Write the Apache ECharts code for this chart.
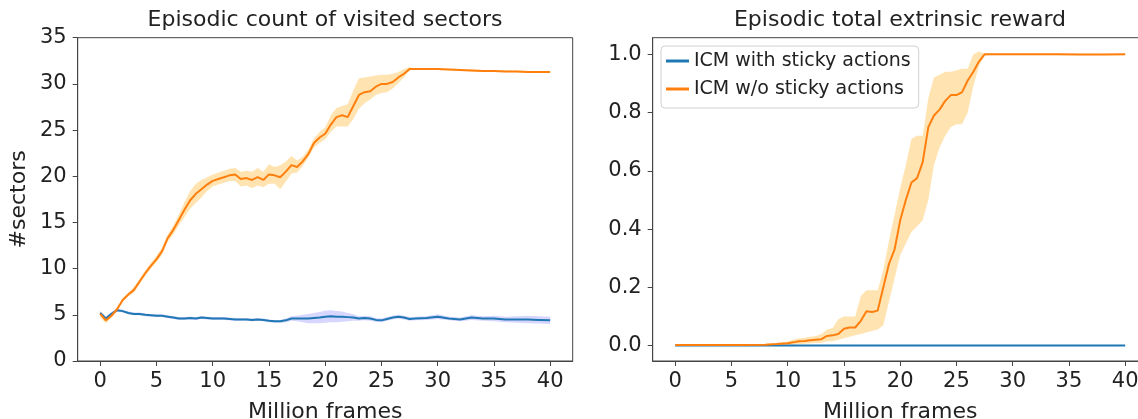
<!DOCTYPE html>
<html>
<head>
<meta charset="utf-8">
<script src="https://cdn.jsdelivr.net/npm/echarts@6/dist/echarts.min.js"></script>
<style>
  html, body { margin: 0; padding: 0; background: #fff; }
  #chart { width: 1138px; height: 419px; }
</style>
</head>
<body>
<div id="chart"></div>
<script>
// tick labels
const frameTicks = [0, 5, 10, 15, 20, 25, 30, 35, 40];
const sectorTicks = [0, 5, 10, 15, 20, 25, 30, 35];
const rewardTicks = [0, 0.2, 0.4, 0.6, 0.8, 1.0];

const seriesNames = ["ICM with sticky actions", "ICM w/o sticky actions"];

// left panel: episodic count of visited sectors (million frames)
const leftFrames = [0,0.5,1,1.5,2,2.5,3,3.5,4,4.5,5,5.5,6,6.5,7,7.5,8,8.5,9,9.5,
  10,10.5,11,11.5,12,12.5,13,13.5,14,14.5,15,15.5,16,16.5,17,17.5,18,18.5,19,19.5,
  20,20.5,21,21.5,22,22.5,23,23.5,24,24.5,25,25.5,26,26.5,27,27.5,28,
  29,30,31,32,33,34,35,36,37,38,39,40];

const sectorsSticky = [5.2,4.6,5.1,5.5,5.4,5.2,5.1,5.1,5.0,4.95,
  4.9,4.9,4.8,4.7,4.6,4.6,4.65,4.6,4.7,4.65,
  4.6,4.6,4.6,4.55,4.5,4.5,4.5,4.45,4.5,4.45,
  4.35,4.3,4.3,4.4,4.6,4.6,4.6,4.6,4.65,4.7,
  4.8,4.85,4.8,4.8,4.75,4.7,4.6,4.65,4.6,4.45,
  4.4,4.55,4.7,4.8,4.7,4.55,4.6,
  4.65,4.8,4.6,4.5,4.7,4.6,4.6,4.5,4.5,4.5,4.45,4.4];
const sectorsStickyLow = [5.0,4.4,4.9,5.35,5.25,5.05,4.95,4.95,4.85,4.8,
  4.75,4.75,4.65,4.55,4.45,4.45,4.5,4.45,4.55,4.5,
  4.45,4.45,4.45,4.4,4.35,4.35,4.35,4.3,4.35,4.3,
  4.2,4.15,4.15,4.2,4.35,4.3,4.2,4.1,4.1,4.1,
  4.15,4.2,4.2,4.25,4.3,4.35,4.35,4.4,4.35,4.25,
  4.2,4.35,4.5,4.6,4.5,4.35,4.4,
  4.45,4.55,4.4,4.3,4.45,4.35,4.3,4.2,4.15,4.1,4.05,4.0];
const sectorsStickyHigh = [5.4,4.8,5.3,5.65,5.55,5.35,5.25,5.25,5.15,5.1,
  5.05,5.05,4.95,4.85,4.75,4.75,4.8,4.75,4.85,4.8,
  4.75,4.75,4.75,4.7,4.65,4.65,4.65,4.6,4.65,4.6,
  4.5,4.45,4.45,4.6,4.85,4.9,5.0,5.1,5.2,5.3,
  5.45,5.5,5.4,5.35,5.2,5.05,4.85,4.9,4.85,4.65,
  4.6,4.75,4.9,5.0,4.9,4.75,4.8,
  4.85,5.05,4.8,4.7,4.95,4.85,4.9,4.8,4.85,4.9,4.85,4.8];

const sectorsNoSticky = [5.1,4.4,4.9,5.6,6.6,7.2,7.7,8.6,9.5,10.3,
  11.0,11.9,13.3,14.2,15.3,16.4,17.4,18.1,18.6,19.1,
  19.5,19.7,19.9,20.1,20.2,19.7,19.8,19.6,19.9,19.6,
  20.2,20.1,19.9,20.5,21.2,21.0,21.6,22.4,23.6,24.2,
  24.6,25.6,26.4,26.6,26.4,27.6,28.8,29.1,29.2,29.7,
  30.0,30.0,30.2,30.7,31.1,31.6,31.6,
  31.6,31.6,31.55,31.5,31.45,31.4,31.4,31.35,31.35,31.3,31.3,31.3];
const sectorsNoStickyLow = [4.7,4.1,4.7,5.4,6.4,7.0,7.4,8.3,9.2,10.0,
  10.7,11.5,12.9,13.7,14.7,15.6,16.5,17.1,17.7,18.4,
  18.9,19.1,19.3,19.5,19.5,18.9,19.0,18.7,19.0,18.8,
  19.2,19.2,18.6,19.4,20.3,20.4,21.1,22.0,23.1,23.6,
  24.0,24.8,25.4,25.4,25.4,26.2,27.3,27.9,28.3,28.8,
  29.0,29.1,29.5,30.1,30.7,31.5,31.5,
  31.5,31.5,31.45,31.4,31.35,31.3,31.3,31.25,31.25,31.2,31.2,31.2];
const sectorsNoStickyHigh = [5.4,4.7,5.1,5.8,6.8,7.4,8.0,8.9,9.8,10.6,
  11.4,12.3,13.7,14.7,15.9,17.2,18.4,19.2,19.6,19.9,
  20.2,20.4,20.6,20.8,20.9,20.5,20.6,20.5,20.9,20.5,
  21.3,21.0,21.2,21.6,22.2,21.7,22.1,22.9,24.1,24.8,
  25.3,26.6,27.4,27.6,27.8,29.3,30.6,30.7,30.8,30.9,
  31.0,31.0,31.1,31.3,31.6,31.8,31.7,
  31.7,31.7,31.65,31.6,31.55,31.5,31.5,31.45,31.45,31.4,31.4,31.4];

// right panel: episodic total extrinsic reward
const rightFrames = [0,2,4,6,8,9,
  10,10.5,11,11.5,12,12.5,13,13.5,14,14.5,15,15.5,16,16.5,17,17.5,18,18.5,19,19.5,
  20,20.5,21,21.5,22,22.5,23,23.5,24,24.5,25,25.5,26,26.5,27,27.5,28,
  30,32,34,36,38,40];

const rewardSticky = [0,0,0,0,0,0,
  0,0,0,0,0,0,0,0,0,0,0,0,0,0,0,0,0,0,0,0,
  0,0,0,0,0,0,0,0,0,0,0,0,0,0,0,0,0,
  0,0,0,0,0,0];

const rewardNoSticky = [0.002,0.002,0.002,0.002,0.003,0.005,
  0.008,0.011,0.015,0.016,0.018,0.02,0.022,0.033,0.035,0.04,0.058,0.062,0.062,0.085,0.118,0.115,0.12,0.2,0.28,0.33,
  0.43,0.5,0.56,0.575,0.63,0.75,0.79,0.81,0.84,0.86,0.86,0.87,0.91,0.94,0.975,1.0,1.0,
  1.0,1.0,1.0,0.999,0.999,1.0];
const rewardNoStickyLow = [0.001,0.001,0.001,0.001,0.001,0.001,
  0.002,0.004,0.005,0.006,0.008,0.009,0.01,0.015,0.015,0.02,0.025,0.03,0.035,0.04,0.045,0.05,0.055,0.07,0.15,0.23,
  0.31,0.35,0.39,0.41,0.43,0.5,0.62,0.68,0.72,0.75,0.76,0.76,0.8,0.89,0.96,0.995,0.997,
  0.997,0.997,0.997,0.997,0.997,0.997];
const rewardNoStickyHigh = [0.003,0.003,0.003,0.003,0.005,0.009,
  0.014,0.02,0.025,0.027,0.03,0.033,0.04,0.055,0.06,0.09,0.1,0.1,0.1,0.17,0.19,0.19,0.19,0.26,0.36,0.45,
  0.54,0.62,0.71,0.72,0.72,0.85,0.92,0.93,0.94,0.94,0.945,0.95,0.95,1.0,1.01,1.003,1.002,
  1.002,1.002,1.002,1.002,1.002,1.002];

const FONT = "DejaVu Sans";
const TEXT = "#222";
const AXIS = "#444";
const BLUE = "#1f77b4";
const ORANGE = "#ff7f0e";

function pairs(xs, ys) {
  return xs.map((x, i) => [x, ys[i]]);
}

// shaded min/max band drawn as one polygon through the axis scales
function band(xs, low, high, color, idx) {
  return {
    type: "custom",
    xAxisIndex: idx,
    yAxisIndex: idx,
    silent: true,
    z: 1,
    data: xs.map((x, i) => [x, low[i], high[i]]),
    encode: { x: 0, y: [1, 2] },
    renderItem: (params, api) => {
      if (params.dataIndex !== 0) return null;
      const pts = [];
      for (let i = 0; i < xs.length; i++) pts.push(api.coord([xs[i], high[i]]));
      for (let i = xs.length - 1; i >= 0; i--) pts.push(api.coord([xs[i], low[i]]));
      return { type: "polygon", shape: { points: pts }, style: { fill: color } };
    },
  };
}

function meanLine(name, xs, ys, color, idx, z) {
  return {
    name: name,
    type: "line",
    xAxisIndex: idx,
    yAxisIndex: idx,
    symbol: "none",
    lineStyle: { color: color, width: 2 },
    itemStyle: { color: color },
    data: pairs(xs, ys),
    z: z,
  };
}

function frameAxis(idx) {
  return {
    type: "value",
    gridIndex: idx,
    min: -2,
    max: 42,
    name: "Million frames",
    nameLocation: "middle",
    nameGap: 40,
    nameTextStyle: { color: TEXT, fontSize: 22, fontFamily: FONT },
    axisLine: { show: true, onZero: false, lineStyle: { color: AXIS, width: 1 } },
    axisTick: { show: true, length: 5, customValues: frameTicks, lineStyle: { color: AXIS } },
    axisLabel: { customValues: frameTicks, color: TEXT, fontSize: 21, fontFamily: FONT, margin: 10 },
    splitLine: { show: false },
  };
}

const chart = echarts.init(document.getElementById("chart"));

const gridBase = {
  top: 37.7,
  width: 495,
  height: 323.3,
  show: true,
  borderColor: AXIS,
  borderWidth: 1,
  containLabel: false,
  outerBoundsMode: "none",
};

const option = {
  animation: false,
  backgroundColor: "#fff",
  title: [
    {
      text: "Episodic count of visited sectors",
      left: 325,
      top: 9,
      padding: 0,
      textAlign: "center",
      textStyle: { color: TEXT, fontSize: 22, fontWeight: "normal", fontFamily: FONT },
    },
    {
      text: "Episodic total extrinsic reward",
      left: 900,
      top: 9,
      padding: 0,
      textAlign: "center",
      textStyle: { color: TEXT, fontSize: 22, fontWeight: "normal", fontFamily: FONT },
    },
  ],
  legend: {
    data: seriesNames,
    orient: "vertical",
    left: 661,
    top: 46,
    padding: [4, 8, 8, 5],
    itemWidth: 23,
    itemHeight: 3,
    itemGap: 6,
    icon: "rect",
    backgroundColor: "rgba(255,255,255,0.8)",
    borderColor: "#d0d0d0",
    borderWidth: 1,
    borderRadius: 4,
    textStyle: { color: TEXT, fontSize: 19, fontFamily: FONT, lineHeight: 22 },
  },
  grid: [
    Object.assign({ left: 77.7 }, gridBase),
    Object.assign({ left: 652.7 }, gridBase),
  ],
  xAxis: [frameAxis(0), frameAxis(1)],
  yAxis: [
    {
      type: "value",
      gridIndex: 0,
      min: 0,
      max: 35,
      interval: 5,
      name: "#sectors",
      nameLocation: "middle",
      nameGap: 47,
      nameTextStyle: { color: TEXT, fontSize: 22, fontFamily: FONT },
      axisLine: { show: true, onZero: false, lineStyle: { color: AXIS, width: 1 } },
      axisTick: { show: true, length: 5, lineStyle: { color: AXIS } },
      axisLabel: { color: TEXT, fontSize: 21, fontFamily: FONT, margin: 11 },
      splitLine: { show: false },
    },
    {
      type: "value",
      gridIndex: 1,
      min: -0.053,
      max: 1.057,
      axisLine: { show: true, onZero: false, lineStyle: { color: AXIS, width: 1 } },
      axisTick: { show: true, length: 5, customValues: rewardTicks, lineStyle: { color: AXIS } },
      axisLabel: {
        customValues: rewardTicks,
        color: TEXT,
        fontSize: 21,
        fontFamily: FONT,
        margin: 11,
        formatter: (v) => v.toFixed(1),
      },
      splitLine: { show: false },
    },
  ],
  series: [
    band(leftFrames, sectorsStickyLow, sectorsStickyHigh, "rgba(90,90,255,0.25)", 0),
    band(leftFrames, sectorsNoStickyLow, sectorsNoStickyHigh, "rgba(255,165,0,0.3)", 0),
    meanLine(seriesNames[0], leftFrames, sectorsSticky, BLUE, 0, 3),
    meanLine(seriesNames[1], leftFrames, sectorsNoSticky, ORANGE, 0, 4),
    band(rightFrames, rewardNoStickyLow, rewardNoStickyHigh, "rgba(255,165,0,0.3)", 1),
    meanLine(seriesNames[0], rightFrames, rewardSticky, BLUE, 1, 3),
    meanLine(seriesNames[1], rightFrames, rewardNoSticky, ORANGE, 1, 4),
  ],
};

chart.setOption(option);
</script>
</body>
</html>
